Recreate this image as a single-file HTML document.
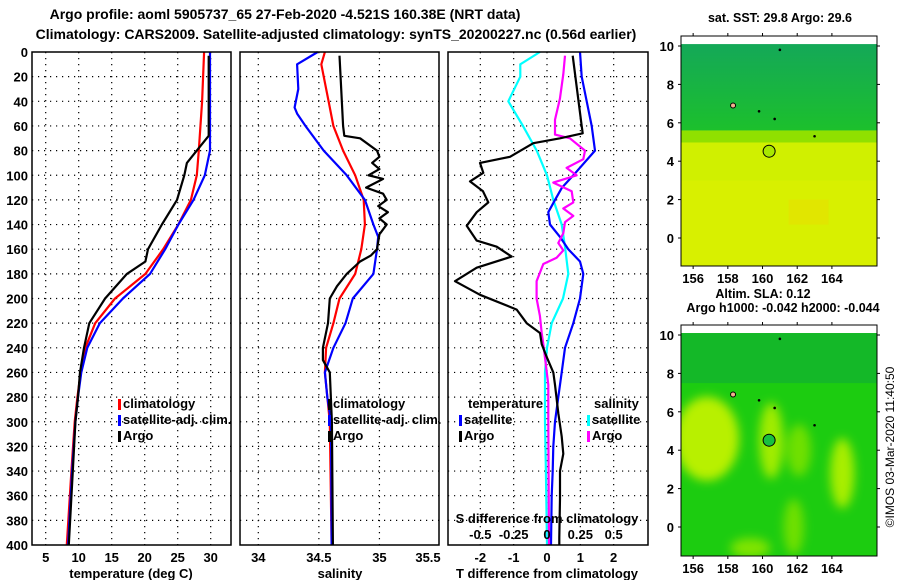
<!DOCTYPE html>
<html><head><meta charset="utf-8">
<style>
html,body{margin:0;padding:0;background:#fff;}
svg{display:block;font-family:"Liberation Sans",sans-serif;font-weight:bold;}
</style></head>
<body>
<svg id="c" width="900" height="580" viewBox="0 0 900 580" xmlns="http://www.w3.org/2000/svg">
<text x="285" y="19" font-size="14" text-anchor="middle">Argo profile: aoml 5905737_65 27-Feb-2020 -4.521S 160.38E (NRT data)</text>
<text x="336" y="39" font-size="14" text-anchor="middle">Climatology: CARS2009. Satellite-adjusted climatology: synTS_20200227.nc (0.56d earlier)</text>
<g id="layer"></g>
</svg>
<script>
// ---------- data ----------
const tClimDepth=[0,40,80,100,120,140,160,180,200,220,240,260,280,300,340,400];
const tClimVal=[29.0,28.7,28.2,27.9,27.0,25.1,22.8,20.1,15.5,12.5,11.0,10.3,9.8,9.4,8.9,8.2];
const tSatDepth=[0,80,100,120,140,160,180,200,220,240,260,280,300,340,400];
const tSatVal=[29.9,29.9,29.1,27.4,25.1,23.1,20.8,16.7,13.2,11.3,10.4,9.9,9.5,9.0,8.4];
const tArgoDepth=[3,68,80,90,100,120,140,160,170,180,200,220,240,260,280,300,340,400];
const tArgoVal=[29.7,29.7,27.9,26.4,26.0,24.9,22.6,20.5,20.1,17.3,14.0,11.6,10.8,10.2,9.9,9.5,9.1,8.5];

const sClimDepth=[0,10,40,60,80,100,120,140,160,180,200,220,240,260,300,400];
const sClimVal=[34.55,34.52,34.58,34.62,34.70,34.80,34.87,34.88,34.85,34.80,34.67,34.62,34.56,34.55,34.59,34.605];
const sSatDepth=[0,10,30,45,50,60,80,100,120,140,150,160,180,200,220,240,260,280,300,400];
const sSatVal=[34.49,34.32,34.33,34.30,34.32,34.39,34.54,34.73,34.88,34.95,34.99,34.98,34.95,34.78,34.72,34.62,34.55,34.57,34.60,34.605];
const sArgoDepth=[3,60,68,70,80,85,90,95,100,103,110,115,120,125,130,135,140,148,160,165,170,180,190,200,220,240,250,260,300,400];
const sArgoVal=[34.67,34.70,34.71,34.84,34.98,35.00,34.94,35.00,34.91,35.03,34.89,35.03,35.06,34.99,35.07,35.00,35.06,35.00,34.98,34.93,34.84,34.73,34.65,34.59,34.575,34.533,34.533,34.59,34.608,34.616];

const dtSatDepth=[0,20,40,60,80,100,110,120,130,140,150,160,170,180,200,220,240,260,280,300,320,340,360,400];
const dtSatVal=[0.99,1.04,1.19,1.34,1.44,0.79,0.45,0.24,0.04,0.09,0.39,0.64,0.99,1.09,0.99,0.79,0.54,0.44,0.34,0.24,0.19,0.17,0.14,0.12];
const dtArgoDepth=[3,60,66,70,74,85,90,98,105,113,122,130,141,153,158,166,175,186,197,209,220,228,237,248,260,270,293,312,326,340,362,394,400];
const dtArgoVal=[0.77,1.04,1.07,0.39,-0.41,-1.11,-2.01,-1.91,-2.31,-1.92,-1.76,-2.11,-2.41,-2.11,-1.51,-1.06,-2.11,-2.76,-2.01,-0.91,-0.61,-0.21,-0.16,0.0,0.19,0.24,0.34,0.44,0.49,0.39,0.39,0.37,0.37];
const dsSatDepth=[0,10,20,40,60,80,100,120,140,158,180,200,220,240,260,300,340,400];
const dsSatVal=[-0.053,-0.2,-0.2,-0.29,-0.18,-0.077,0.0,0.047,0.11,0.135,0.16,0.12,0.035,0.0,-0.015,-0.015,-0.008,0.0];
const dsArgoDepth=[3,18,38,55,67,70,80,87,94,100,106,113,122,127,133,138,147,155,161,167,172,186,200,214,228,237,248,270,300,400];
const dsArgoVal=[0.135,0.122,0.097,0.06,0.06,0.172,0.285,0.272,0.147,0.222,0.047,0.185,0.197,0.122,0.197,0.135,0.122,0.085,0.122,0.072,-0.028,-0.078,-0.078,-0.053,-0.04,-0.028,-0.015,0.01,0.01,0.015];

const depthTicks=[0,20,40,60,80,100,120,140,160,180,200,220,240,260,280,300,320,340,360,380,400];
const tTicks=[5,10,15,20,25,30];
const sTicks=[34,34.5,35,35.5];
const sTickLabels=["34","34.5","35","35.5"];
const dtTicks=[-2,-1,0,1,2];
const dsTicks=[-0.5,-0.25,0,0.25,0.5];
const dsTickLabels=["-0.5","-0.25","0","0.25","0.5"];
const latTicks=[0,2,4,6,8,10];
const lonTicks=[156,158,160,162,164];

// ---------- helpers ----------
const NS="http://www.w3.org/2000/svg";
const L=document.getElementById('layer');
function mk(tag,attrs,parent){const e=document.createElementNS(NS,tag);for(const k in attrs)e.setAttribute(k,attrs[k]);(parent||L).appendChild(e);return e;}
function txt(x,y,s,size,anchor,parent){const e=mk('text',{x:x,y:y,'font-size':size,'text-anchor':anchor||'middle'},parent);e.textContent=s;return e;}
const Y0=52,Y1=545;
const yD=d=>Y0+(d/400)*(Y1-Y0);
function lin(d0,d1,r0,r1){return v=>r0+(v-d0)/(d1-d0)*(r1-r0);}

function panel(x0,x1,name,vt,xf){
  const g=mk('g',{});
  
  
  depthTicks.forEach(d=>{if(d>0&&d<400){const l=mk('line',{x1:x0,x2:x1,y1:yD(d),y2:yD(d),stroke:'#000','stroke-width':1.2,'stroke-dasharray':'1.2,4.8'},g);
    }});
  vt.forEach(v=>{const X=xf(v);if(X>x0+1&&X<x1-1){const l=mk('line',{x1:X,x2:X,y1:Y0,y2:Y1,stroke:'#000','stroke-width':1.2,'stroke-dasharray':'1.2,4.8'},g);
    }});
  return g;
}
function frame(x0,x1,g){const r=mk('rect',{x:x0,y:Y0,width:x1-x0,height:Y1-Y0,fill:'none',stroke:'#000','stroke-width':1.5},g);
  }
function series(depths,vals,xf,color,w,name,g){
  const pts=depths.map((d,i)=>xf(vals[i]).toFixed(1)+','+yD(d).toFixed(1)).join(' ');
  const p=mk('polyline',{points:pts,fill:'none',stroke:color,'stroke-width':w,'stroke-linejoin':'round'},g);
  
}
function legend(x,y,color,label,g){
  const r=mk('rect',{x:x,y:y-9,width:3,height:11,fill:color},g);
  
  const t=txt(x+5,y,label,13,'start',g);
  
}

// depth labels
depthTicks.forEach(d=>{const t=txt(28,yD(d)+5,String(d),13,'end');
  });

// Panel 1: temperature
const xT=lin(3,33,32.5,230.5);
const g1=panel(32,231,'temperature-panel',tTicks,xT);
series(tClimDepth,tClimVal,xT,'#f00',2.2,'temp-climatology-line',g1);
series(tSatDepth,tSatVal,xT,'#00f',2.2,'temp-satellite-line',g1);
series(tArgoDepth,tArgoVal,xT,'#000',2.2,'temp-argo-line',g1);
frame(32,231,g1);
tTicks.forEach(v=>{const t=txt(xT(v),562,String(v),13,'middle',g1);});
{const t=txt(131,578,'temperature (deg C)',13,'middle',g1);}
legend(118,408,'#f00','climatology',g1);
legend(118,424,'#00f','satellite-adj. clim.',g1);
legend(118,440,'#000','Argo',g1);

// Panel 2: salinity
const xS=lin(34,35.5,258.3,440);
const g2=panel(240,439,'salinity-panel',sTicks,xS);
series(sClimDepth,sClimVal,xS,'#f00',2.2,'sal-climatology-line',g2);
series(sSatDepth,sSatVal,xS,'#00f',2.2,'sal-satellite-line',g2);
series(sArgoDepth,sArgoVal,xS,'#000',2.2,'sal-argo-line',g2);
frame(240,439,g2);
sTicks.forEach((v,i)=>{const X=Math.min(xS(v),428);const t=txt(X,562,sTickLabels[i],13,'middle',g2);});
{const t=txt(340,578,'salinity',13,'middle',g2);}
legend(328,408,'#000','climatology',g2);
legend(328,424,'#00f','satellite-adj. clim.',g2);
legend(328,440,'#000','Argo',g2);

// Panel 3: differences
const xDT=lin(-3,3,447,647);
const xDS=lin(-0.75,0.75,447,647);
const g3=panel(448,648,'difference-panel',dtTicks,xDT);
series(dsSatDepth,dsSatVal,xDS,'#0ff',2.2,'sal-diff-satellite-line',g3);
series(dtSatDepth,dtSatVal,xDT,'#00f',2.2,'temp-diff-satellite-line',g3);
series(dsArgoDepth,dsArgoVal,xDS,'#f0f',2.2,'sal-diff-argo-line',g3);
series(dtArgoDepth,dtArgoVal,xDT,'#000',2.2,'temp-diff-argo-line',g3);
frame(448,648,g3);
dtTicks.forEach(v=>{const t=txt(xDT(v),562,String(v),13,'middle',g3);});
dsTicks.forEach((v,i)=>{const t=txt(xDS(v),539,dsTickLabels[i],13,'middle',g3);});
{const t=txt(547,523,'S difference from climatology',13,'middle',g3);}
{const t=txt(547,578,'T difference from climatology',13,'middle',g3);}
{const t=txt(468,408,'temperature',13,'start',g3);}
{const t=txt(594,408,'salinity',13,'start',g3);}
legend(459,424,'#00f','satellite',g3);
legend(459,440,'#000','Argo',g3);
legend(587,424,'#0ff','satellite',g3);
legend(587,440,'#f0f','Argo',g3);

// ---------- maps ----------
const MX0=681,MX1=877;
const xLon=lin(155.3,166.6,MX0,MX1);
function map(top,bot,name,title,fillFn,ptFill){
  const g=mk('g',{});
  
  const yLat=v=>top+10+(10-v)*19.2;
  const clip='clip-'+name;
  const cp=mk('clipPath',{id:clip},g);mk('rect',{x:MX0,y:top,width:MX1-MX0,height:bot-top},cp);
  const inner=mk('g',{'clip-path':'url(#'+clip+')'},g);
  mk('rect',{x:MX0,y:top,width:MX1-MX0,height:bot-top,fill:'#fff'},inner);
  fillFn(inner,yLat,top,bot);
  // islands
  [[158.3,6.9],[161,9.8],[159.8,6.6],[160.7,6.2],[163,5.3]].forEach(p=>{const c=mk('circle',{cx:xLon(p[0]),cy:yLat(p[1]),r:1.3,fill:'#000'},inner);
    });
  const isl=mk('circle',{cx:xLon(158.3),cy:yLat(6.9),r:2.5,fill:'#f4b090',stroke:'#000','stroke-width':1},inner);
  
  const c=mk('circle',{cx:xLon(160.38),cy:yLat(4.52),r:6,fill:ptFill,stroke:'#000','stroke-width':1},inner);
  
  mk('rect',{x:MX0,y:top,width:MX1-MX0,height:bot-top,fill:'none',stroke:'#000','stroke-width':1},g);
  latTicks.forEach(v=>{const Y=yLat(v);mk('line',{x1:MX0-3,x2:MX0,y1:Y,y2:Y,stroke:'#000'},g);mk('line',{x1:MX1,x2:MX1+3,y1:Y,y2:Y,stroke:'#000'},g);
    const t=txt(MX0-7,Y+5,String(v),13,'end',g);});
  lonTicks.forEach(v=>{const X=xLon(v);mk('line',{x1:X,x2:X,y1:bot,y2:bot+3,stroke:'#000'},g);mk('line',{x1:X,x2:X,y1:top-3,y2:top,stroke:'#000'},g);
    const t=txt(X,bot+17,String(v),13,'middle',g);});
  title.forEach(tt=>{const t=txt(tt[1],tt[2],tt[0],12.5,'middle',g);});
  return g;
}
const sstFill=(g,yLat,top,bot)=>{
  const gr=mk('linearGradient',{id:'sstg',x1:0,y1:0,x2:0,y2:1},g);
  mk('stop',{offset:'0',  'stop-color':'#14a858'},gr);
  mk('stop',{offset:'1',  'stop-color':'#1cc02c'},gr);
  mk('rect',{x:MX0,y:yLat(10.1),width:MX1-MX0,height:yLat(5.6)-yLat(10.1),fill:'url(#sstg)'},g);
  mk('rect',{x:MX0,y:yLat(5.6),width:MX1-MX0,height:bot-yLat(5.6),fill:'#d0f000'},g);
  mk('rect',{x:MX0,y:yLat(5.6),width:MX1-MX0,height:12,fill:'#90e000'},g);
  mk('rect',{x:MX0,y:yLat(3),width:MX1-MX0,height:yLat(-1.5)-yLat(3),fill:'#dcf000',opacity:0.7},g);
  mk('rect',{x:xLon(161.5),y:yLat(2),width:40,height:25,fill:'#e8e000',opacity:0.6},g);
};
const slaFill=(g,yLat,top,bot)=>{
  const f=mk('filter',{id:'blr'},g);mk('feGaussianBlur',{stdDeviation:5},f);
  mk('rect',{x:MX0,y:yLat(10.1),width:MX1-MX0,height:bot-yLat(10.1),fill:'#1ccc10'},g);
  mk('rect',{x:MX0,y:yLat(10.1),width:MX1-MX0,height:50,fill:'#14b828'},g);
  const b=mk('g',{filter:'url(#blr)'},g);
  mk('ellipse',{cx:xLon(156.8),cy:yLat(4.6),rx:32,ry:42,fill:'#b8f000'},b);
  mk('ellipse',{cx:xLon(160.5),cy:yLat(4.5),rx:12,ry:38,fill:'#a0ec00'},b);
  mk('ellipse',{cx:xLon(162.1),cy:yLat(4),rx:12,ry:26,fill:'#70e000'},b);
  mk('ellipse',{cx:xLon(164.6),cy:yLat(2.8),rx:12,ry:35,fill:'#a8ee00'},b);
  mk('ellipse',{cx:xLon(161.8),cy:yLat(0),rx:10,ry:28,fill:'#70e000'},b);
  mk('ellipse',{cx:xLon(159.3),cy:yLat(-1.1),rx:20,ry:10,fill:'#80e400'},b);
};
map(36,266,'sst-map',[['sat. SST: 29.8 Argo: 29.6',780,22]],sstFill,'#a8e800');
map(325,556,'sla-map',[['Altim. SLA: 0.12',763,298],['Argo h1000: -0.042 h2000: -0.044',783,312]],slaFill,'#18c040');
{const t=mk('text',{x:894,y:447,'font-size':12,'font-weight':'normal','text-anchor':'middle',transform:'rotate(-90 894 447)'});
 t.textContent='©IMOS 03-Mar-2020 11:40:50';}
</script>
</body></html>
